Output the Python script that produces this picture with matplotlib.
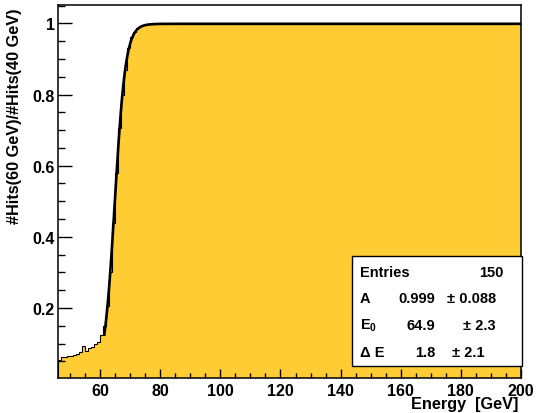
import numpy as np
import matplotlib
matplotlib.use("Agg")
import matplotlib.pyplot as plt
from matplotlib.patches import Rectangle
from matplotlib.ticker import MultipleLocator, FuncFormatter

plt.rcParams['font.family'] = ['Liberation Sans', 'DejaVu Sans']
plt.rcParams['font.weight'] = 'bold'
plt.rcParams['mathtext.fontset'] = 'custom'
plt.rcParams['mathtext.bf'] = 'Liberation Sans:bold'
plt.rcParams['mathtext.rm'] = 'Liberation Sans:bold'

# --- histogram: 1 GeV bins from 46 to 200 GeV ---
e_min, e_max = 46, 200
ratio = [
    # 46 - 75 GeV
    0.055, 0.061, 0.062, 0.064, 0.066, 0.068, 0.071, 0.075, 0.093, 0.080,
    0.086, 0.090, 0.099, 0.104, 0.125, 0.150, 0.205, 0.300, 0.440, 0.580,
    0.705, 0.800, 0.870, 0.930, 0.962, 0.976, 0.986, 0.992, 0.996, 0.998,
    # 76 - 199 GeV (plateau)
    0.999, 0.999, 1.000, 1.000, 1.000, 1.000, 1.000, 1.000, 1.000, 1.000,
    1.000, 1.000, 1.000, 1.000, 1.000, 1.000, 1.000, 1.000, 1.000, 1.000,
    1.000, 1.000, 1.000, 1.000, 1.000, 1.000, 1.000, 1.000, 1.000, 1.000,
    1.000, 1.000, 1.000, 1.000, 1.000, 1.000, 1.000, 1.000, 1.000, 1.000,
    1.000, 1.000, 1.000, 1.000, 1.000, 1.000, 1.000, 1.000, 1.000, 1.000,
    1.000, 1.000, 1.000, 1.000, 1.000, 1.000, 1.000, 1.000, 1.000, 1.000,
    1.000, 1.000, 1.000, 1.000, 1.000, 1.000, 1.000, 1.000, 1.000, 1.000,
    1.000, 1.000, 1.000, 1.000, 1.000, 1.000, 1.000, 1.000, 1.000, 1.000,
    1.000, 1.000, 1.000, 1.000, 1.000, 1.000, 1.000, 1.000, 1.000, 1.000,
    1.000, 1.000, 1.000, 1.000, 1.000, 1.000, 1.000, 1.000, 1.000, 1.000,
    1.000, 1.000, 1.000, 1.000, 1.000, 1.000, 1.000, 1.000, 1.000, 1.000,
    1.000, 1.000, 1.000, 1.000, 1.000, 1.000, 1.000, 1.000, 1.000, 1.000,
    1.000, 1.000, 1.000, 1.000,
]
entries = 150

# Fermi-function fit: A / (1 + exp(-(E - E0)/dE))
A, A_err = 0.999, 0.088
E0, E0_err = 64.9, 2.3
dE, dE_err = 1.8, 2.1
fit_lo = 61.4

edges = np.arange(e_min, e_max + 1)
e_fit = np.linspace(fit_lo, e_max, 600)
f_fit = A / (1.0 + np.exp(-(e_fit - E0) / dE))

W, H = 537, 414
fig = plt.figure(figsize=(W / 100, H / 100), dpi=100)
ax = fig.add_axes([58 / W, 1 - 379 / H, (521 - 58) / W, (379 - 6) / H])

ax.stairs(ratio, edges, fill=True, color='#ffcc33', lw=0)
ax.stairs(ratio, edges, color='black', lw=0.8)
ax.plot(e_fit, f_fit, color='black', lw=1.9)

ax.set_xlim(e_min, e_max)
ax.set_ylim(0.003, 1.052)

ax.xaxis.set_major_locator(MultipleLocator(20))
ax.xaxis.set_minor_locator(MultipleLocator(5))
ax.yaxis.set_major_locator(MultipleLocator(0.2))
ax.yaxis.set_minor_locator(MultipleLocator(0.05))
ax.yaxis.set_major_formatter(FuncFormatter(lambda v, p: '%g' % round(v, 2)))
ax.tick_params(axis='x', which='major', direction='in', length=6.5, width=1, pad=3.4, labelsize=11.5)
ax.tick_params(axis='x', which='minor', direction='in', length=3.3, width=1)
ax.tick_params(axis='y', which='major', direction='in', length=10, width=1, pad=2.2, labelsize=11.5)
ax.tick_params(axis='y', which='minor', direction='in', length=5, width=1)
for s in ax.spines.values():
    s.set_linewidth(1.1)

fig.text(518 / W, 1 - 405 / H, 'Energy  [GeV]', ha='right', va='center', fontsize=11.7)
fig.text(15 / W, 1 - 9 / H, '#Hits(60 GeV)/#Hits(40 GeV)', rotation=90,
         ha='center', va='top', fontsize=11.7)

# statistics box
fig.patches.append(Rectangle((352 / W, 1 - 366.7 / H), 169.7 / W, 109.4 / H,
                             transform=fig.transFigure, facecolor='white',
                             edgecolor='black', lw=1, zorder=5))
def stat(x, y, s, ha='left'):
    fig.text(x / W, 1 - y / H, s, ha=ha, va='center', fontsize=10.5, zorder=6)

stat(360, 272.7, 'Entries')
stat(504, 272.7, '%d' % entries, ha='right')
stat(360, 299.3, 'A')
stat(435, 299.3, '%.3f' % A, ha='right')
stat(446.7, 299.3, '\u00b1 %.3f' % A_err)
stat(360, 326, r'$\mathbf{E_0}$')
stat(435, 326, '%.1f' % E0, ha='right')
stat(463.3, 326, '\u00b1 %.1f' % E0_err)
stat(360, 352.7, '\u0394 E')
stat(435, 352.7, '%.1f' % dE, ha='right')
stat(451.7, 352.7, '\u00b1 %.1f' % dE_err)

fig.savefig('out.png', dpi=100)
